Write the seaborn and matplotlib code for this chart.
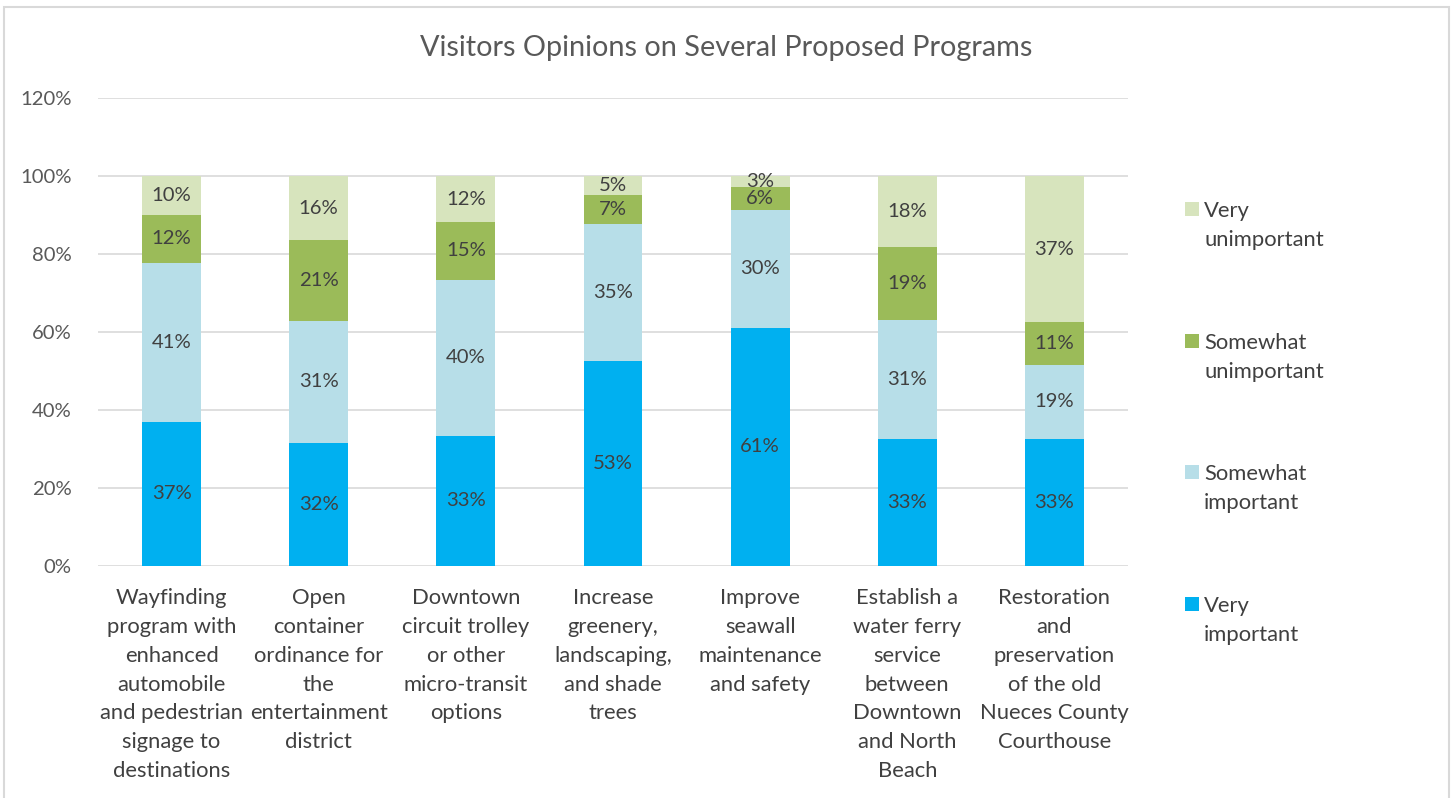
import matplotlib
matplotlib.use("Agg")
import matplotlib.pyplot as plt
from matplotlib.patches import Rectangle
import pandas as pd
import seaborn as sns

# Survey programs (wrapped as shown on the axis)
programs = [
    "Wayfinding\nprogram with\nenhanced\nautomobile\nand pedestrian\nsignage to\ndestinations",
    "Open\ncontainer\nordinance for\nthe\nentertainment\ndistrict",
    "Downtown\ncircuit trolley\nor other\nmicro-transit\noptions",
    "Increase\ngreenery,\nlandscaping,\nand shade\ntrees",
    "Improve\nseawall\nmaintenance\nand safety",
    "Establish a\nwater ferry\nservice\nbetween\nDowntown\nand North\nBeach",
    "Restoration\nand\npreservation\nof the old\nNueces County\nCourthouse",
]

series_names = ["Very important", "Somewhat important",
                "Somewhat unimportant", "Very unimportant"]

# Share of respondents (%) per program
very_important = [37.0, 31.6, 33.4, 52.6, 61.1, 32.6, 32.7]
somewhat_important = [40.8, 31.3, 40.0, 35.2, 30.3, 30.6, 18.8]
somewhat_unimportant = [12.3, 20.8, 14.9, 7.4, 5.9, 18.6, 11.2]
very_unimportant = [9.9, 16.3, 11.7, 4.8, 2.7, 18.2, 37.3]

y_ticks = [0, 20, 40, 60, 80, 100, 120]

colors = ["#00B0F0", "#B7DEE8", "#9BBB59", "#D7E4BD"]
TEXT = "#404040"
AXIS_TEXT = "#595959"
GRID = "#D9D9D9"
NUM_SIZE = 14.6
WORD_SIZE = 15.8

sns.set_theme(style="white")
plt.rcParams["font.family"] = ["Lato", "DejaVu Sans"]

W, H = 1453, 798
fig = plt.figure(figsize=(W / 100, H / 100), dpi=100)
fig.patch.set_facecolor("white")

def fx(px):
    return px / W

def fy(py):
    return 1 - py / H

# plot area
ax = fig.add_axes([fx(98), fy(566), fx(1128) - fx(98), fy(98.4) - fy(566)])

# long-form table with stacked bottoms/tops
values = [very_important, somewhat_important, somewhat_unimportant, very_unimportant]
rows = []
for i, prog in enumerate(programs):
    bottom = 0.0
    for name, vals in zip(series_names, values):
        v = vals[i]
        rows.append({"program": prog, "level": name, "value": v,
                     "bottom": bottom, "top": bottom + v})
        bottom += v
df = pd.DataFrame(rows)

# draw the stack from the top segment down so each lower layer covers the rest
for name, col in reversed(list(zip(series_names, colors))):
    sub = df[df["level"] == name]
    sns.barplot(data=sub, x="program", y="top", order=programs, color=col,
                saturation=1, width=0.4, errorbar=None, ax=ax, zorder=3,
                linewidth=0)

# segment labels
for i, prog in enumerate(programs):
    sub = df[df["program"] == prog]
    for _, r in sub.iterrows():
        ax.text(i, r["bottom"] + r["value"] / 2, f"{r['value']:.0f}%",
                ha="center", va="center", fontsize=NUM_SIZE, color=TEXT, zorder=4)

ax.set_ylim(0, 120)
ax.set_xlim(-0.5, len(programs) - 0.5)
ax.set_yticks(y_ticks)
ax.set_yticklabels([f"{t}%" for t in y_ticks], fontsize=NUM_SIZE, color=AXIS_TEXT)
ax.set_xticks(range(len(programs)))
ax.set_xticklabels(programs, fontsize=WORD_SIZE, color=TEXT)
for lbl in ax.get_xticklabels():
    lbl.set_linespacing(1.55)
ax.tick_params(axis="y", length=0, pad=19)
ax.tick_params(axis="x", length=0, pad=16)
ax.set_xlabel("")
ax.set_ylabel("")
ax.grid(axis="y", color=GRID, linewidth=1.2, zorder=0)
ax.grid(axis="x", visible=False)
ax.set_axisbelow(True)
for s in ax.spines.values():
    s.set_visible(False)

# title
fig.text(fx(726), fy(48), "Visitors Opinions on Several Proposed Programs",
         ha="center", va="center", fontsize=20.8, color=AXIS_TEXT)

# legend, top entry first
legend_y = [209, 341, 472, 604]
for name, col, cy in zip(reversed(series_names), reversed(colors), legend_y):
    fig.patches.append(Rectangle((fx(1185), fy(cy + 7)), fx(14), 14 / H,
                                 transform=fig.transFigure, facecolor=col,
                                 edgecolor="none"))
    first, second = name.split(" ", 1)
    fig.text(fx(1204), fy(cy + 8), first, ha="left", va="baseline",
             fontsize=WORD_SIZE, color=TEXT)
    fig.text(fx(1204), fy(cy + 37), second, ha="left", va="baseline",
             fontsize=WORD_SIZE, color=TEXT)

# chart frame
fig.patches.append(Rectangle((fx(3.5), fy(820)), fx(1445), (820 - 6.5) / H,
                             transform=fig.transFigure, facecolor="none",
                             edgecolor=GRID, linewidth=1.5))

fig.savefig("out.png", dpi=100, facecolor="white")
